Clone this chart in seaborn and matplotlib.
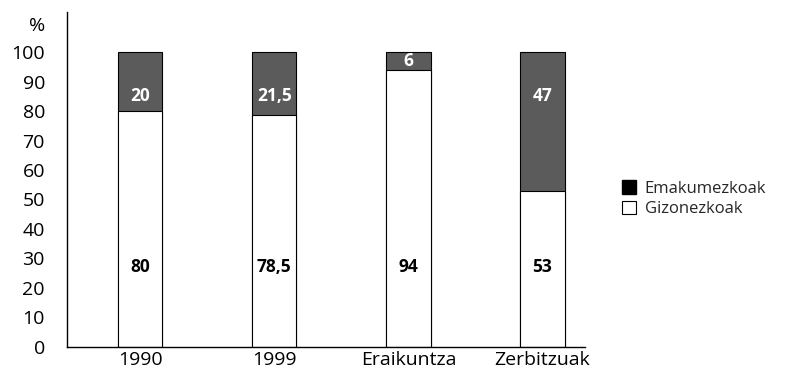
import matplotlib
matplotlib.use("Agg")
import matplotlib.pyplot as plt
from matplotlib.patches import Patch
from matplotlib.transforms import blended_transform_factory
import seaborn as sns
import pandas as pd

categories = ["1990", "1999", "Eraikuntza", "Zerbitzuak"]
gizonezkoak = [80, 78.5, 94, 53]
emakumezkoak = [20, 21.5, 6, 47]
value_labels_men = ["80", "78,5", "94", "53"]
value_labels_women = ["20", "21,5", "6", "47"]
yticks = [0, 10, 20, 30, 40, 50, 60, 70, 80, 90, 100]

sns.set_theme(style="white")
plt.rcParams["font.family"] = ["Open Sans", "DejaVu Sans"]

df = pd.DataFrame({
    "kategoria": categories,
    "gizonezkoak": gizonezkoak,
    "emakumezkoak": emakumezkoak,
})
df["guztira"] = df["gizonezkoak"] + df["emakumezkoak"]

fig = plt.figure(figsize=(7.9, 3.75), dpi=100)
ax = fig.add_axes([0.085, 0.075, 0.656, 0.893])

women_color = "#5b5b5b"
bar_w = 0.33

# Total height in grey, then the men's share in white on top of it
sns.barplot(data=df, x="kategoria", y="guztira", color=women_color,
            width=bar_w, edgecolor="black", linewidth=0.8, ax=ax,
            saturation=1)
sns.barplot(data=df, x="kategoria", y="gizonezkoak", color="white",
            width=bar_w, edgecolor="black", linewidth=0.8, ax=ax,
            saturation=1)

for i, (m, w) in enumerate(zip(gizonezkoak, emakumezkoak)):
    ax.text(i, 27, value_labels_men[i], ha="center", va="center",
            fontsize=12.5, fontweight="bold", color="black")
    wy = 85 if w > 10 else m + w / 2
    ax.text(i, wy, value_labels_women[i], ha="center", va="center",
            fontsize=12.5, fontweight="bold", color="white")

ax.set_ylim(0, 113.6)
ax.set_xlim(-0.545, 3.32)
ax.set_yticks(yticks)
ax.set_yticklabels([str(t) for t in yticks])
ax.set_xlabel("")
ax.set_ylabel("")
ax.tick_params(axis="y", length=0, pad=16, labelsize=14, colors="black")
ax.tick_params(axis="x", length=0, pad=3, labelsize=14, colors="black")

for side in ["top", "right"]:
    ax.spines[side].set_visible(False)
for side in ["left", "bottom"]:
    ax.spines[side].set_color("black")
    ax.spines[side].set_linewidth(1.0)

trans = blended_transform_factory(ax.transAxes, ax.transData)
ax.text(-0.057, 109, "%", transform=trans, ha="center", va="center",
        fontsize=14, color="black")

handles = [
    Patch(facecolor="black", edgecolor="black", label="Emakumezkoak"),
    Patch(facecolor="white", edgecolor="black", linewidth=0.8,
          label="Gizonezkoak"),
]
fig.legend(handles=handles, loc="center left",
           bbox_to_anchor=(0.779, 0.47), frameon=False, fontsize=12,
           handlelength=0.85, handleheight=0.85, handletextpad=0.5,
           labelspacing=0.25, borderaxespad=0)

fig.savefig("out.png", dpi=100, facecolor="white")
